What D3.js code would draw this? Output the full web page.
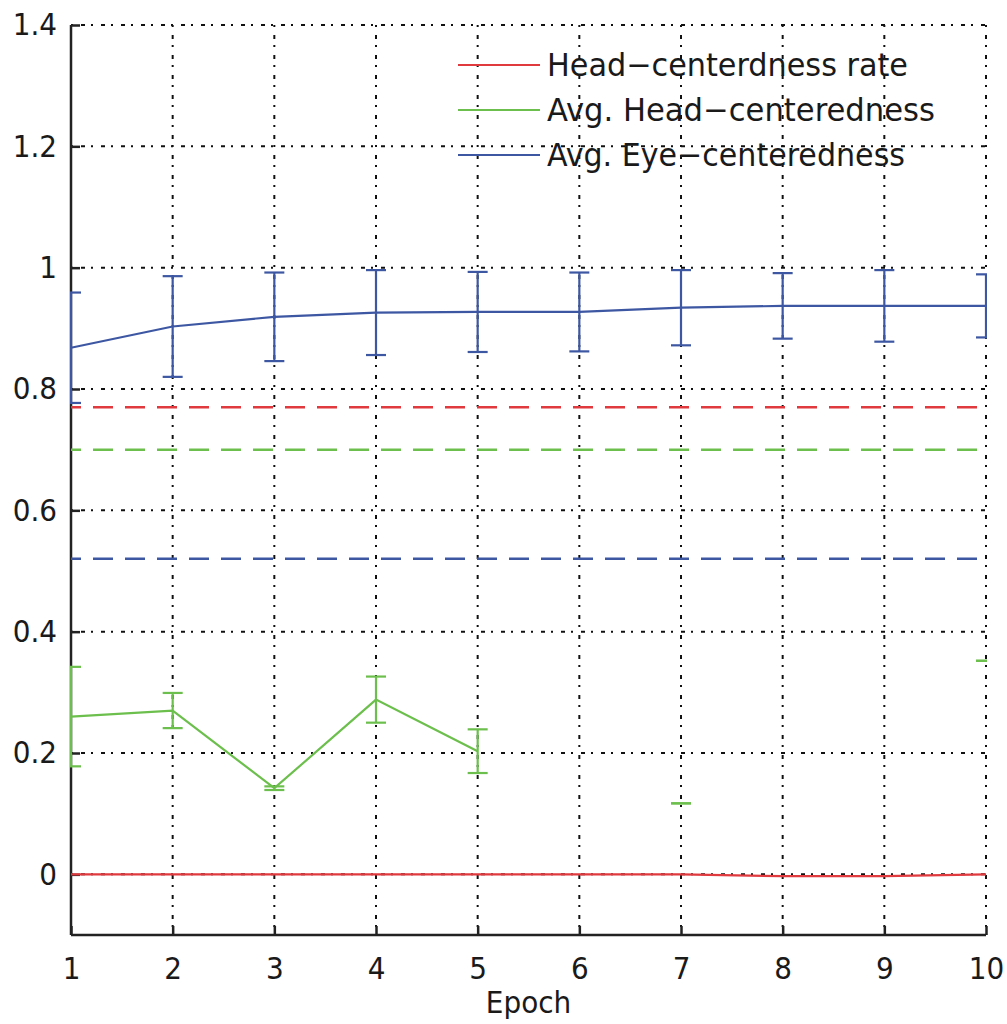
<!DOCTYPE html>
<html>
<head>
<meta charset="utf-8">
<script src="https://cdn.jsdelivr.net/npm/d3@7"></script>
<style>
  html, body { margin: 0; padding: 0; background: #fff; }
  svg { display: block; }
  text { font-family: "DejaVu Sans Condensed", "Liberation Sans Narrow", "DejaVu Sans", sans-serif; fill: #1a1a1a; }
</style>
</head>
<body>
<svg id="chart" width="1007" height="1024"></svg>
<script>
// Training epochs
const epochs = [1, 2, 3, 4, 5, 6, 7, 8, 9, 10];

// Avg. Eye-centeredness: mean and half-width of the error bar
const eyeMean = [0.868, 0.903, 0.919, 0.926, 0.927, 0.927, 0.934, 0.937, 0.937, 0.937];
const eyeErr  = [0.091, 0.083, 0.073, 0.070, 0.066, 0.065, 0.062, 0.054, 0.059, 0.052];

// Avg. Head-centeredness (missing epochs are null)
const headMean = [0.260, 0.270, 0.142, 0.288, 0.203, null, 0.117, null, null, 0.352];
const headErr  = [0.082, 0.029, 0.003, 0.038, 0.036, null, 0.000, null, null, 0.000];

// Head-centerdness rate
const rate = [0, 0, 0, 0, 0, 0, 0, -0.003, -0.003, 0];

// Reference (dashed) levels
const refRate = 0.77;
const refHead = 0.70;
const refEye = 0.52;

const yTicks = [0, 0.2, 0.4, 0.6, 0.8, 1, 1.2, 1.4];
const legendLabels = ["Head\u2212centerdness rate", "Avg. Head\u2212centeredness", "Avg. Eye\u2212centeredness"];

const colors = { rate: "#e0393e", head: "#6cbf4c", eye: "#3d57a3" };

const svg = d3.select("#chart");
const x = d3.scaleLinear().domain([1, 10]).range([71, 986]);
const y = d3.scaleLinear().domain([-0.1, 1.4]).range([935, 25]);

svg.append("defs").append("clipPath").attr("id", "plotClip")
  .append("rect")
  .attr("x", x(1) - 1).attr("y", y(1.4) - 2)
  .attr("width", x(10) - x(1) + 2).attr("height", y(-0.1) - y(1.4) + 4);

// Dotted grid
const grid = svg.append("g").attr("stroke", "#111").attr("stroke-width", 2)
  .attr("stroke-dasharray", "2,8,4,6");
grid.selectAll("line.h").data(yTicks).join("line").attr("class", "h")
  .attr("x1", x(1)).attr("x2", x(10))
  .attr("y1", d => y(d)).attr("y2", d => y(d));
grid.selectAll("line.v").data(epochs.slice(1)).join("line").attr("class", "v")
  .attr("x1", d => x(d)).attr("x2", d => x(d))
  .attr("y1", y(1.4)).attr("y2", y(-0.1));

// Axes
const yAxis = d3.axisLeft(y).tickValues(yTicks).tickSize(-9).tickPadding(14)
  .tickFormat(d => d3.format("")(+d.toFixed(1)));
const xAxis = d3.axisBottom(x).tickValues(epochs).tickSize(-9).tickPadding(22)
  .tickFormat(d3.format("d"));

const gy = svg.append("g").attr("transform", `translate(${x(1)},0)`).call(yAxis);
const gx = svg.append("g").attr("transform", `translate(0,${y(-0.1)})`).call(xAxis);
[gy, gx].forEach(g => {
  g.select(".domain").attr("stroke", "#222").attr("stroke-width", 2.5);
  g.selectAll(".tick line").attr("stroke", "#222").attr("stroke-width", 2.5);
  g.selectAll(".tick text").attr("font-size", 31).attr("fill", "#1a1a1a")
    .attr("font-family", '"DejaVu Sans Condensed", "Liberation Sans Narrow", "DejaVu Sans", sans-serif');
});
gy.select(".domain").attr("d", `M0,${y(1.4)}V${y(-0.1)}`);
gx.select(".domain").attr("d", `M${x(1)},0H${x(10)}`);

svg.append("text").attr("x", (x(1) + x(10)) / 2).attr("y", 1013)
  .attr("text-anchor", "middle").attr("font-size", 31).text("Epoch");

const plot = svg.append("g").attr("clip-path", "url(#plotClip)");

// Dashed reference levels
[[refRate, colors.rate], [refHead, colors.head], [refEye, colors.eye]].forEach(([v, c]) => {
  plot.append("line")
    .attr("x1", x(1)).attr("x2", x(10)).attr("y1", y(v)).attr("y2", y(v))
    .attr("stroke", c).attr("stroke-width", 2.5).attr("stroke-dasharray", "20,12")
    .attr("stroke-dashoffset", 10);
});

const line = d3.line().defined(d => d[1] != null).x(d => x(d[0])).y(d => y(d[1]));

function errorSeries(mean, err, color) {
  const pts = epochs.map((e, i) => [e, mean[i], err[i]]);
  plot.append("path").datum(pts).attr("d", line)
    .attr("fill", "none").attr("stroke", color).attr("stroke-width", 2.2);
  const g = plot.append("g").attr("stroke", color).attr("stroke-width", 2.2).attr("fill", "none");
  pts.filter(p => p[1] != null).forEach(([e, m, s]) => {
    const cx = x(e), hw = 10;
    g.append("line").attr("x1", cx).attr("x2", cx).attr("y1", y(m - s)).attr("y2", y(m + s));
    g.append("line").attr("x1", cx - hw).attr("x2", cx + hw).attr("y1", y(m + s)).attr("y2", y(m + s));
    g.append("line").attr("x1", cx - hw).attr("x2", cx + hw).attr("y1", y(m - s)).attr("y2", y(m - s));
  });
}

// Rate line
plot.append("path").datum(epochs.map((e, i) => [e, rate[i]])).attr("d", line)
  .attr("fill", "none").attr("stroke", colors.rate).attr("stroke-width", 2.2);

errorSeries(headMean, headErr, colors.head);
errorSeries(eyeMean, eyeErr, colors.eye);

// Legend
const legendColors = [colors.rate, colors.head, colors.eye];
const legendWidths = [361, 388, 358];
const legend = svg.append("g");
legendLabels.forEach((lab, i) => {
  const ly = 65 + i * 45;
  legend.append("line").attr("x1", 458).attr("x2", 540).attr("y1", ly).attr("y2", ly)
    .attr("stroke", legendColors[i]).attr("stroke-width", 2.2);
  legend.append("text").attr("x", 547).attr("y", ly + 11)
    .attr("font-size", 32).attr("textLength", legendWidths[i])
    .attr("lengthAdjust", "spacingAndGlyphs").text(lab);
});
</script>
</body>
</html>
